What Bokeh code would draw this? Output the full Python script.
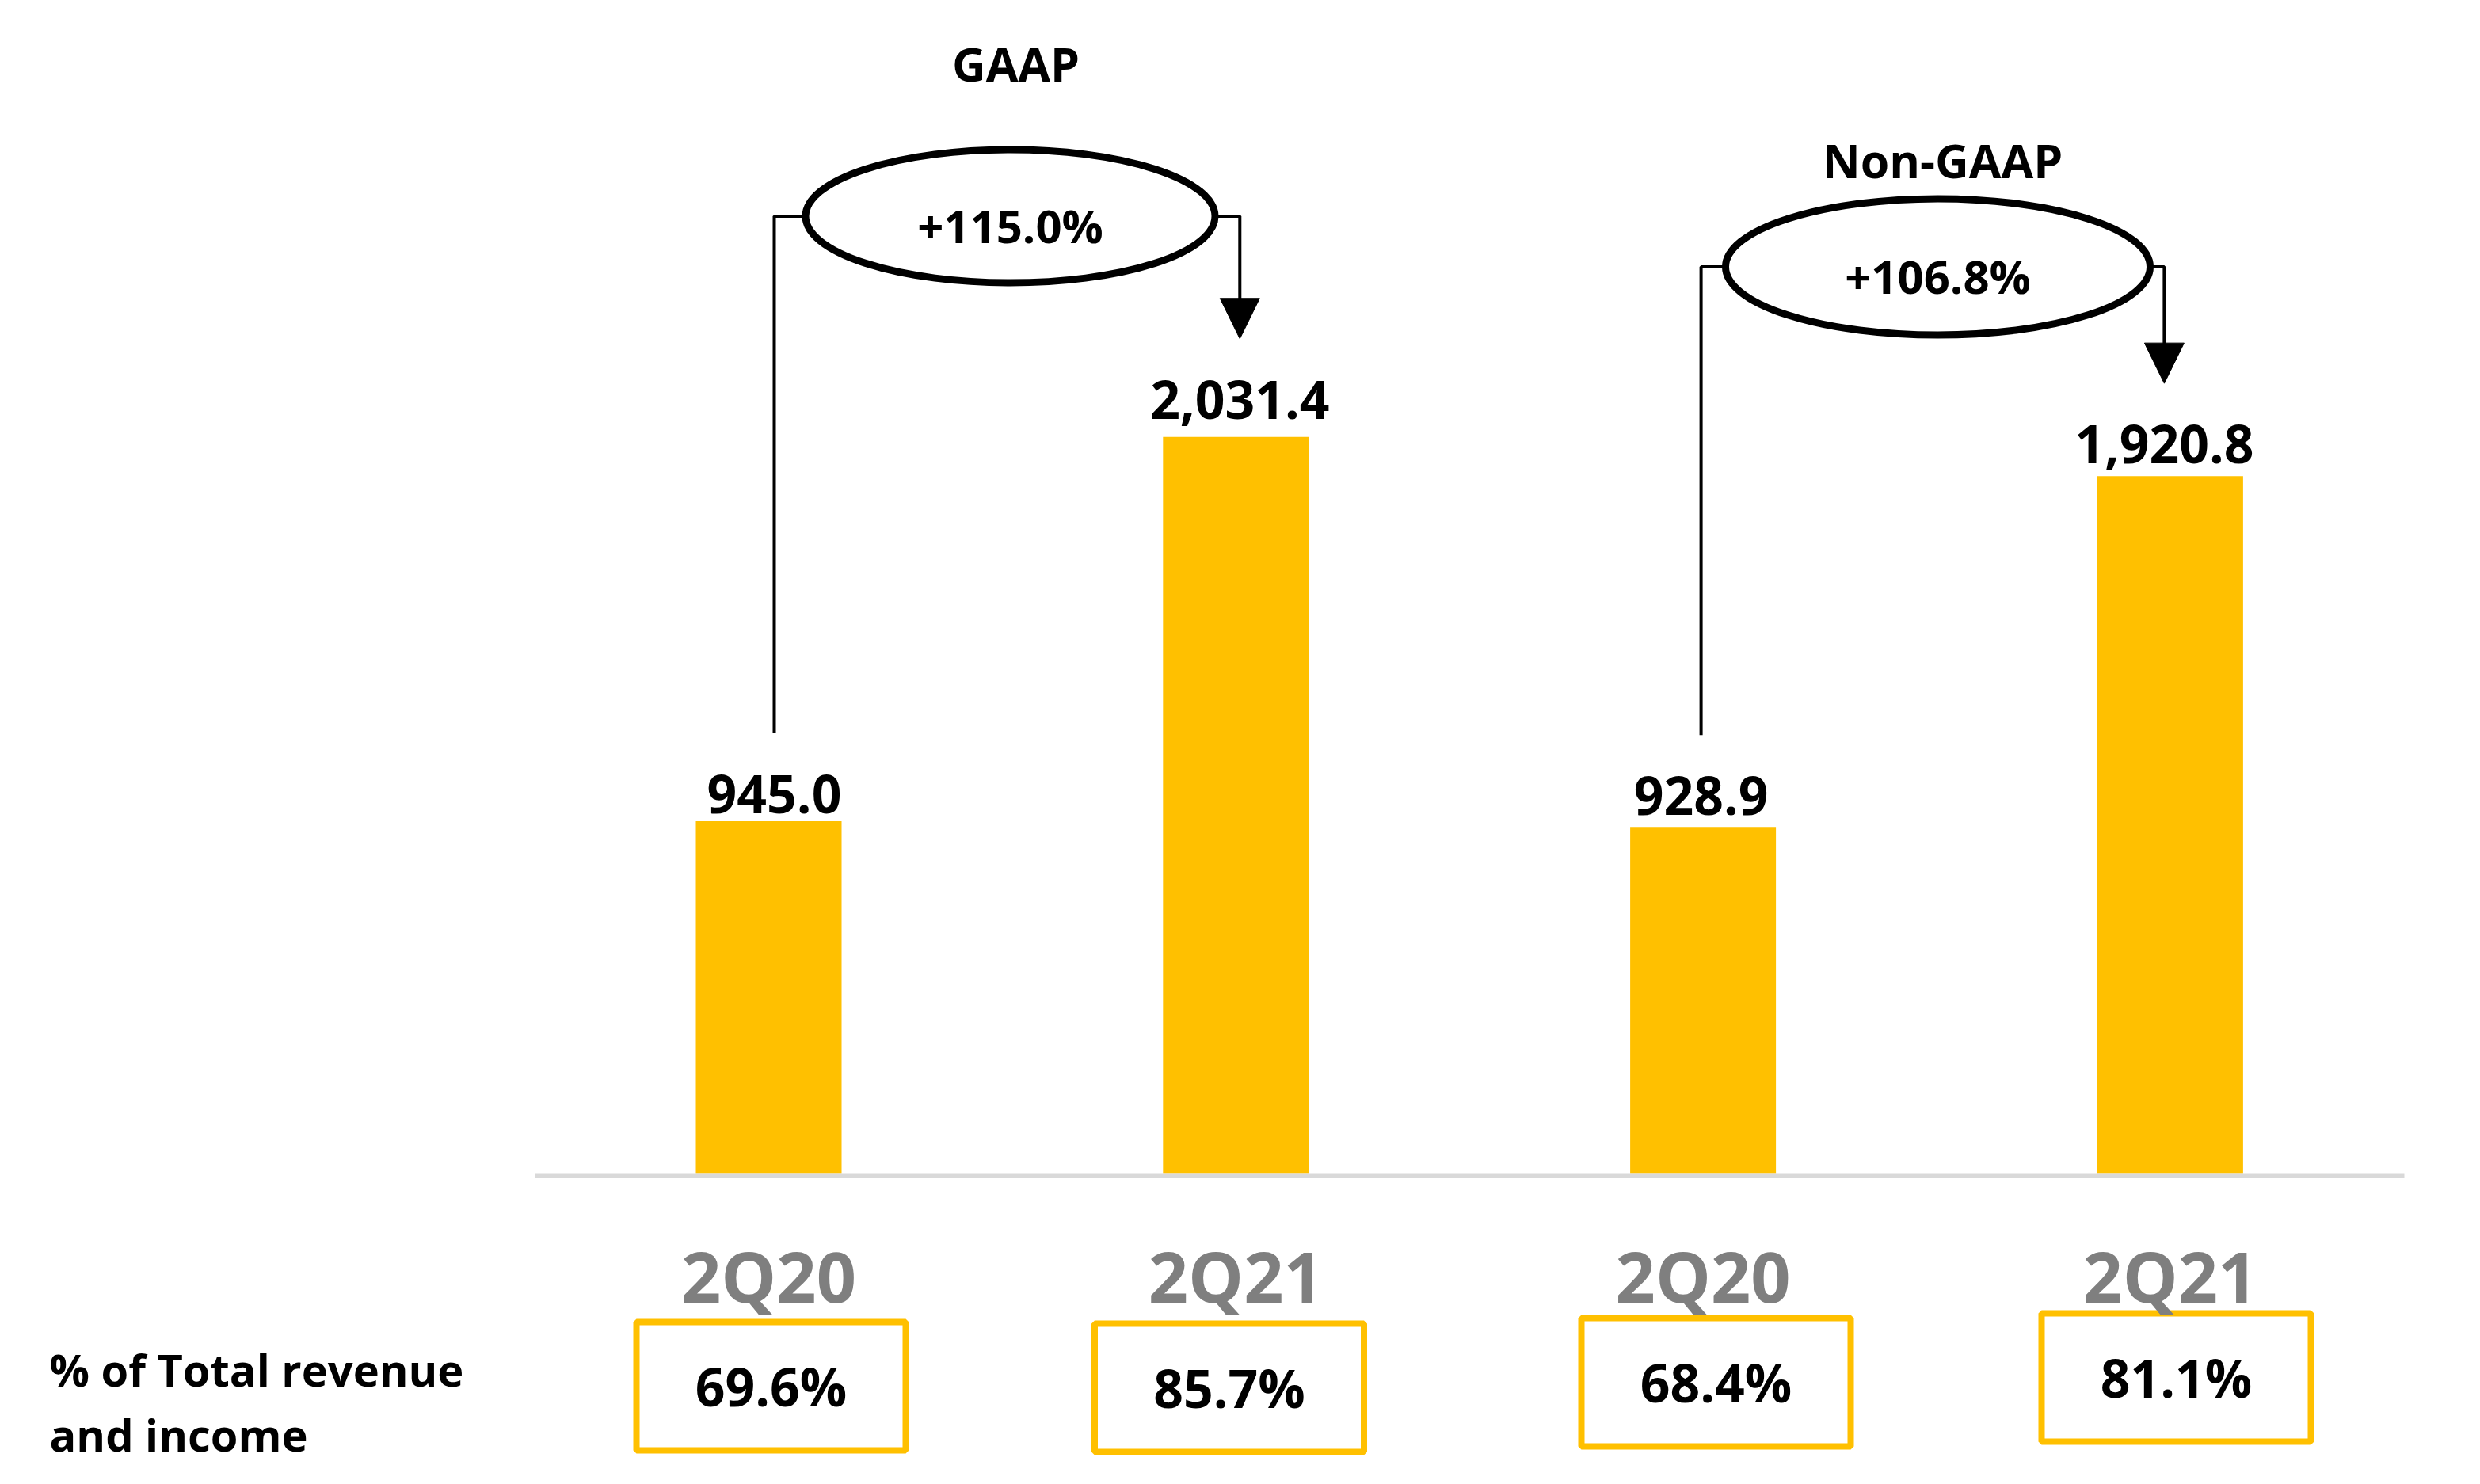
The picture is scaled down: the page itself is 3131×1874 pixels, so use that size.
from bokeh.plotting import figure
from bokeh.models import Range1d
from bokeh.core.properties import value
from bokeh.embed import file_html
from bokeh.resources import INLINE

# ---------------- data ----------------
groups = ["GAAP", "Non-GAAP"]
categories = ["2Q20", "2Q21", "2Q20", "2Q21"]
values = [945.0, 2031.4, 928.9, 1920.8]
value_labels = ["945.0", "2,031.4", "928.9", "1,920.8"]
pct_of_total = ["69.6%", "85.7%", "68.4%", "81.1%"]
growth_labels = ["+115.0%", "+106.8%"]
row_label = ["% of Total revenue", "and income"]
AXIS_CROSS = -50.0  # value where the horizontal axis crosses (bars grow from it)

# ---------------- layout (page pixels) ----------------
W, H = 3115, 1858
MARGIN = 1          # observed page offset of the canvas
K = 0.4467          # px per unit
BASE_PY = 1482      # page y of axis crossing
SLOT0_PX = 971      # page x of first bar centre
SLOT_PX = 589.8     # px between bar centres
BAR_W = 184 / SLOT_PX
TXT_ADJ = 0.38      # baseline correction (em) for rendered text

FONT = value("Open Sans")
YELLOW = "#FFC000"


def X(px):
    return (px - SLOT0_PX) / SLOT_PX


def Y(py):
    return AXIS_CROSS + (BASE_PY - py) / K


def PY(v):
    return BASE_PY - (v - AXIS_CROSS) * K


def TY(py, size):
    """data y for a text whose alphabetic baseline should sit at page y `py`"""
    return Y(py - TXT_ADJ * size)


p = figure(width=W, height=H,
           x_range=Range1d(X(MARGIN), X(MARGIN + W)),
           y_range=Range1d(Y(MARGIN + H), Y(MARGIN)),
           output_backend="svg", toolbar_location=None,
           x_axis_location=None, y_axis_location=None,
           min_border=0, background_fill_color="white",
           border_fill_color="white")
p.grid.visible = False
p.outline_line_color = None

idx = list(range(len(values)))

# bars
p.vbar(x=idx, top=values, bottom=AXIS_CROSS, width=BAR_W,
       fill_color=YELLOW, line_color=None)

# horizontal axis line
p.segment(x0=[X(676)], y0=[Y(1485)], x1=[X(3036)], y1=[Y(1485)],
          line_color="#D9D9D9", line_width=6)

# value labels
LABEL_DX = [7, 5, -2.5, -7.5]
LABEL_GAP = [9, 22, 14, 15]
LABEL_CAP = 47
lab_px = [SLOT0_PX + i * SLOT_PX + LABEL_DX[i] for i in idx]
lab_py = [PY(values[i]) - LABEL_GAP[i] for i in idx]
p.text(x=[X(v) for v in lab_px], y=[TY(v, 66) for v in lab_py], text=value_labels,
       text_font=FONT, text_font_style="bold", text_font_size="66px",
       text_align="center", text_baseline="alphabetic", text_color="black")

# percentage boxes
BOX_C = [(974, 1751), (1552.5, 1753), (2167, 1746), (2748, 1740)]
p.rect(x=[X(c[0]) for c in BOX_C], y=[Y(c[1]) for c in BOX_C],
       width=340, height=162, width_units="screen", height_units="screen",
       fill_color="white", line_color=YELLOW, line_width=8)
p.text(x=[X(c[0]) for c in BOX_C], y=[TY(c[1] + 25, 66) for c in BOX_C], text=pct_of_total,
       text_font=FONT, text_font_style="bold", text_font_size="66px",
       text_align="center", text_baseline="alphabetic", text_color="black")

# category labels
p.text(x=idx, y=[TY(1645, 88)] * 4, text=categories,
       text_font=FONT, text_font_style="bold", text_font_size="88px",
       text_align="center", text_baseline="alphabetic", text_color="#7F7F7F")

# row label
p.text(x=[X(63), X(63)], y=[TY(1751, 56), TY(1833, 56)], text=row_label,
       text_font=FONT, text_font_style="bold", text_font_size="56px",
       text_align="left", text_baseline="alphabetic", text_color="black")

# growth brackets
ELL = [(1276, 273.5, 517, 168), (2447, 337.5, 536, 172)]
TITLE_POS = [(1283, 103), (2453, 225)]
GAP_CONN = 55
for g in range(2):
    cx, cy, ew, eh = ELL[g]
    i0, i1 = 2 * g, 2 * g + 1
    lx0, lx1 = lab_px[i0], lab_px[i1]
    bot0 = lab_py[i0] - LABEL_CAP - GAP_CONN
    tip = lab_py[i1] - LABEL_CAP - GAP_CONN
    head_h, head_w = 51, 50
    # left connector
    p.line(x=[X(lx0), X(lx0), X(cx - ew / 2)], y=[Y(bot0), Y(cy), Y(cy)],
           line_color="black", line_width=4)
    # right connector
    p.line(x=[X(cx + ew / 2), X(lx1), X(lx1)], y=[Y(cy), Y(cy), Y(tip - head_h + 2)],
           line_color="black", line_width=4)
    p.patch(x=[X(lx1 - head_w / 2), X(lx1 + head_w / 2), X(lx1)],
            y=[Y(tip - head_h), Y(tip - head_h), Y(tip)],
            fill_color="black", line_color="black", line_width=1)
    # ellipse
    p.ellipse(x=[X(cx)], y=[Y(cy)], width=ew, height=eh,
              width_units="screen", height_units="screen",
              fill_color="white", line_color="black", line_width=9)
    p.text(x=[X(cx)], y=[TY(cy + 33.5, 58)], text=[growth_labels[g]],
           text_font=FONT, text_font_style="bold", text_font_size="58px",
           text_align="center", text_baseline="alphabetic", text_color="black")
    # title
    tx, ty = TITLE_POS[g]
    p.text(x=[X(tx)], y=[TY(ty, 59)], text=[groups[g]],
           text_font=FONT, text_font_style="bold", text_font_size="59px",
           text_align="center", text_baseline="alphabetic", text_color="black")

open("out.html", "w").write(file_html(p, INLINE))
